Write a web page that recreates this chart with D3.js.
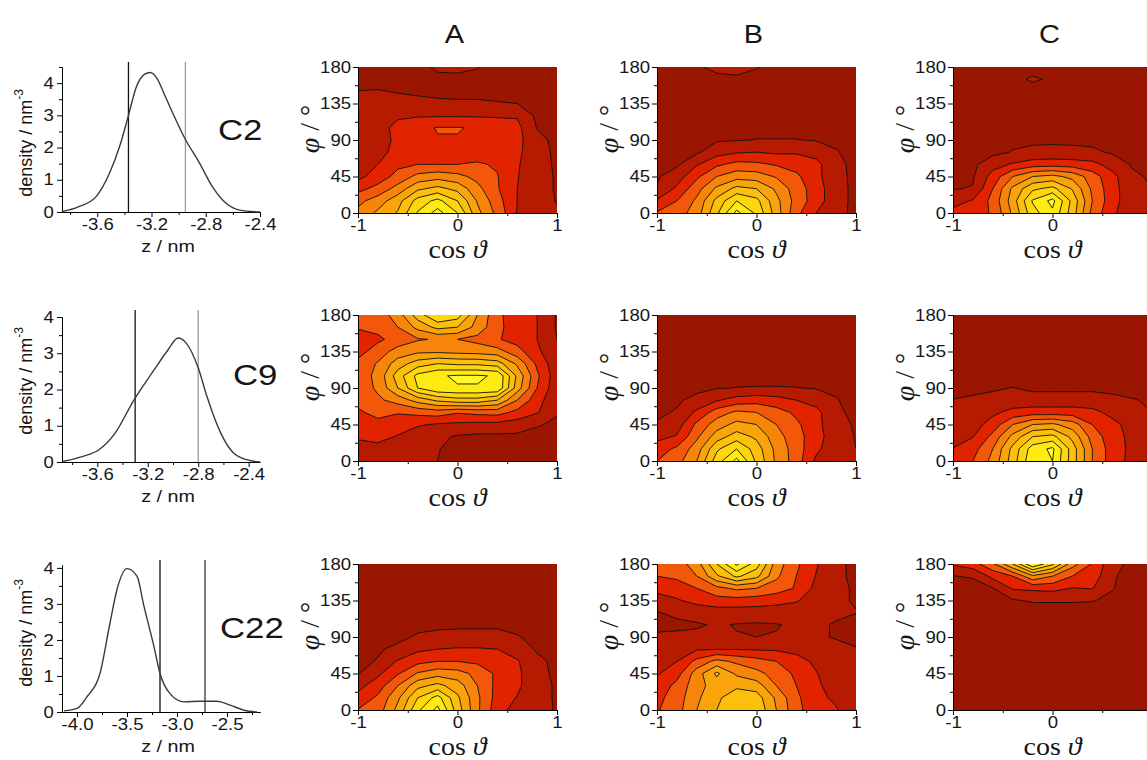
<!DOCTYPE html>
<html>
<head>
<meta charset="utf-8">
<script src="https://cdn.jsdelivr.net/npm/d3@7"></script>
<style>
  body { margin: 0; background: #fff; }
  text { fill: #161616; }
</style>
</head>
<body>
<svg id="fig" width="1147" height="760"></svg>
<script>
// ---------- data ----------
var rowNames = ["C2", "C9", "C22"];
var colNames = ["A", "B", "C"];

// density profiles (z in nm, density in nm^-3)
var zC2  = [-3.86,-3.74,-3.61,-3.51,-3.43,-3.37,-3.31,-3.25,-3.21,-3.16,-3.10,-3.03,-2.95,-2.85,-2.75,-2.65,-2.55,-2.40];
var dC2  = [0.01,0.16,0.47,1.2,2.1,3.0,3.9,4.28,4.33,4.15,3.6,2.95,2.25,1.55,0.78,0.27,0.06,0.0];
var zC9  = [-3.87,-3.72,-3.59,-3.46,-3.31,-3.15,-3.04,-2.96,-2.90,-2.80,-2.73,-2.62,-2.52,-2.39,-2.31];
var dC9  = [0.02,0.15,0.33,0.79,1.71,2.54,3.09,3.42,3.3,2.6,1.8,0.79,0.25,0.04,0.0];
var zC22 = [-4.13,-4.00,-3.90,-3.77,-3.67,-3.60,-3.50,-3.40,-3.33,-3.23,-3.17,-3.07,-2.93,-2.77,-2.60,-2.47,-2.33,-2.20];
var dC22 = [0.03,0.1,0.42,1.07,2.47,3.4,3.98,3.77,2.93,1.81,1.07,0.51,0.28,0.3,0.3,0.19,0.05,0.0];

// vertical marker lines (z, nm) : [black, grey]
var marksC2  = [-3.37, -2.95];
var marksC9  = [-3.30, -2.80];
var marksC22 = [-3.17, -2.72];

var zTicksC2  = [-3.6, -3.2, -2.8, -2.4];
var zMinorC2  = [-3.8, -3.4, -3.0, -2.6];
var zTicksC9  = [-3.6, -3.2, -2.8, -2.4];
var zMinorC9  = [-3.8, -3.4, -3.0, -2.6];
var zTicksC22 = [-4.0, -3.5, -3.0, -2.5];
var zMinorC22 = [-3.75, -3.25, -2.75, -2.25];
var densTicks = [0, 1, 2, 3, 4];
var densMinor = [0.5, 1.5, 2.5, 3.5, 4.5];

// orientation maps: grid nodes
var cosGrid = [-1, -0.8, -0.6, -0.4, -0.2, 0, 0.2, 0.4, 0.6, 0.8, 1];
var phiGrid = [0, 15, 30, 45, 60, 75, 90, 105, 120, 135, 150, 165, 180];
var cosTicks = [-1, 0, 1];
var cosMinor = [-0.5, 0.5];
var phiTicks = [0, 45, 90, 135, 180];
var phiMinor = [22.5, 67.5, 112.5, 157.5];
var levels = [1, 2, 3, 4, 5, 6, 7, 8, 9];
var bandColors = ["#9a1600", "#b61a00", "#e22300", "#f2570a", "#f7850a", "#faa40b", "#fcbf0c", "#fed60d", "#ffea12", "#fffb2a"];

// each grid: rows from phi = 180 (top) down to phi = 0, columns cos = -1 .. 1
var gridC2A = [
  [0.6,0.6,0.6,0.7,1.15,1.2,1.05,0.7,0.6,0.5,0.5],
  [0.7,0.7,0.7,0.7,0.8,0.8,0.75,0.7,0.6,0.5,0.5],
  [1.02,1.05,0.95,0.85,0.8,0.8,0.8,0.75,0.7,0.6,0.5],
  [1.3,1.4,1.3,1.25,1.15,1.1,1.1,1.05,1.0,0.85,0.6],
  [1.3,1.4,1.85,1.9,1.9,1.9,1.9,1.9,1.9,0.8,0.7],
  [1.4,1.6,2.3,2.75,3.05,3.05,2.9,2.5,2.3,0.95,0.7],
  [1.4,1.6,2.2,2.8,2.95,2.95,2.75,2.5,2.3,1.3,0.75],
  [1.4,1.7,2.3,2.5,2.5,2.5,2.6,2.5,2.2,1.4,0.8],
  [1.5,2.0,2.8,3.0,3.0,3.0,3.1,2.9,2.1,1.4,0.85],
  [1.7,2.5,3.3,4.3,4.6,4.3,3.7,3.05,2.05,1.4,0.9],
  [2.7,3.3,4.4,5.8,6.3,5.7,4.3,3.1,2.0,1.4,0.9],
  [3.7,4.5,5.6,7.4,8.3,7.0,4.9,3.4,2.0,1.45,0.95],
  [4.3,5.2,6.1,8.1,9.4,8.0,5.3,3.7,1.95,1.45,1.1]
];
var gridC2B = [
  [0.6,0.7,0.9,1.2,1.3,1.05,0.8,0.6,0.5,0.5,0.5],
  [0.6,0.65,0.7,0.8,0.85,0.75,0.65,0.6,0.5,0.5,0.5],
  [0.6,0.6,0.65,0.7,0.7,0.65,0.6,0.6,0.5,0.5,0.5],
  [0.6,0.6,0.6,0.65,0.65,0.65,0.6,0.6,0.55,0.5,0.5],
  [0.6,0.6,0.6,0.65,0.7,0.7,0.7,0.65,0.6,0.55,0.5],
  [0.6,0.6,0.65,0.7,0.8,0.8,0.8,0.8,0.75,0.65,0.55],
  [0.6,0.65,0.75,0.9,0.95,1.02,1.02,1.02,0.95,0.85,0.6],
  [0.6,0.8,0.85,1.6,1.9,2.0,1.85,1.9,1.6,1.05,0.75],
  [0.75,0.85,1.9,2.8,3.3,3.2,2.9,2.6,2.3,1.2,0.8],
  [0.9,1.5,2.8,4.0,4.6,4.5,3.9,3.2,2.3,1.25,0.8],
  [1.05,2.2,3.6,5.2,6.3,6.0,4.8,3.5,2.5,1.3,0.8],
  [2.1,3.0,4.2,6.3,8.0,7.3,5.3,3.6,2.5,1.3,0.8],
  [3.1,3.5,4.5,6.8,9.3,7.8,5.5,3.3,2.0,1.25,0.8]
];
var gridC2C = [
  [0.7,0.7,0.7,0.7,0.7,0.7,0.7,0.65,0.6,0.6,0.6],
  [0.6,0.6,0.65,0.8,1.1,0.9,0.75,0.65,0.6,0.6,0.6],
  [0.6,0.6,0.65,0.7,0.7,0.7,0.7,0.65,0.6,0.6,0.6],
  [0.6,0.6,0.6,0.6,0.6,0.6,0.6,0.6,0.6,0.6,0.6],
  [0.55,0.55,0.6,0.6,0.6,0.6,0.6,0.6,0.6,0.55,0.55],
  [0.5,0.55,0.6,0.65,0.65,0.65,0.65,0.65,0.6,0.55,0.5],
  [0.5,0.55,0.6,0.8,0.85,0.85,0.85,0.8,0.7,0.6,0.5],
  [0.5,0.6,0.75,1.05,1.2,1.25,1.2,1.15,0.9,0.7,0.6],
  [0.6,0.8,1.6,2.1,2.5,2.6,2.5,2.3,1.6,0.9,0.8],
  [0.85,0.9,2.4,4.0,5.0,5.3,4.7,3.5,2.3,1.2,0.85],
  [0.95,1.05,3.0,5.2,6.8,7.3,5.9,3.8,2.4,1.3,1.0],
  [1.6,2.1,3.3,5.5,8.1,9.3,6.7,4.0,2.4,1.35,1.15],
  [2.3,2.6,3.1,5.2,7.6,8.8,6.5,3.7,2.2,1.3,1.2]
];
var gridC9A = [
  [3.2,3.4,4.5,6.5,8.0,7.5,5.0,3.2,2.5,2.0,0.9],
  [3.1,3.3,4.0,5.3,6.3,6.0,4.6,3.3,2.4,2.0,0.9],
  [2.5,2.8,3.4,3.9,4.1,4.0,3.7,3.1,2.6,2.0,1.0],
  [2.6,3.5,4.4,4.8,4.8,4.7,4.6,4.4,3.4,2.2,1.2],
  [3.3,4.1,5.5,6.5,7.0,6.8,6.8,6.5,4.8,2.8,1.3],
  [3.4,4.3,6.5,8.3,8.9,9.1,9.1,8.9,5.8,3.2,1.4],
  [3.3,4.2,6.0,8.0,8.9,8.95,8.95,8.9,5.5,3.0,1.3],
  [3.2,3.8,4.4,5.4,6.2,6.6,6.6,6.0,4.0,2.4,1.2],
  [2.9,3.2,3.1,3.3,3.5,3.1,3.3,3.4,2.7,2.1,1.05],
  [2.2,2.8,2.3,2.1,1.9,1.8,1.7,1.7,1.5,1.05,0.9],
  [2.1,2.2,1.95,1.5,1.2,0.9,0.8,0.8,0.8,0.8,0.8],
  [1.7,1.8,1.5,1.3,1.05,0.7,0.6,0.6,0.6,0.7,0.7],
  [1.6,1.5,1.3,1.2,1.0,0.6,0.5,0.5,0.5,0.6,0.6]
];
var gridC9B = [
  [0.5,0.5,0.5,0.5,0.5,0.5,0.5,0.5,0.5,0.5,0.5],
  [0.5,0.5,0.5,0.5,0.5,0.5,0.5,0.5,0.5,0.5,0.5],
  [0.5,0.5,0.5,0.5,0.5,0.5,0.5,0.5,0.5,0.5,0.5],
  [0.5,0.5,0.5,0.5,0.5,0.5,0.5,0.5,0.5,0.5,0.5],
  [0.5,0.5,0.5,0.55,0.55,0.55,0.55,0.55,0.5,0.5,0.5],
  [0.5,0.55,0.6,0.65,0.7,0.7,0.7,0.7,0.65,0.6,0.5],
  [0.5,0.6,0.75,0.95,1.02,1.05,1.05,1.02,0.95,0.85,0.6],
  [0.6,0.85,1.3,1.9,2.4,2.6,2.4,2.0,1.6,1.05,0.7],
  [0.8,1.1,2.2,3.5,4.2,4.0,3.4,2.8,2.3,1.15,0.8],
  [1.1,1.5,3.2,4.5,5.3,5.0,4.0,3.2,2.3,1.3,0.9],
  [1.7,2.1,3.8,5.5,6.5,5.8,4.4,3.4,2.4,1.4,0.95],
  [2.5,3.2,4.5,6.8,8.0,6.5,4.7,3.5,2.2,1.4,1.0],
  [3.0,3.6,5.0,7.5,9.3,6.8,4.8,3.5,1.8,1.3,1.15]
];
var gridC9C = [
  [0.5,0.5,0.5,0.5,0.5,0.5,0.5,0.5,0.5,0.5,0.5],
  [0.5,0.5,0.5,0.5,0.5,0.5,0.5,0.5,0.5,0.5,0.5],
  [0.5,0.5,0.5,0.5,0.5,0.5,0.5,0.5,0.5,0.5,0.5],
  [0.5,0.5,0.5,0.5,0.5,0.5,0.5,0.5,0.5,0.5,0.5],
  [0.55,0.55,0.55,0.6,0.6,0.6,0.6,0.6,0.55,0.55,0.5],
  [0.6,0.65,0.7,0.75,0.7,0.7,0.7,0.7,0.65,0.6,0.6],
  [0.8,0.85,0.9,1.02,0.85,0.85,0.85,0.85,0.8,0.75,0.7],
  [1.02,1.1,1.25,1.4,1.35,1.35,1.35,1.35,1.2,1.05,0.9],
  [1.2,1.4,1.8,2.3,2.5,2.5,2.5,2.3,1.7,1.4,1.0],
  [1.3,1.6,2.4,4.0,5.0,5.2,4.5,3.0,2.3,1.6,1.1],
  [1.4,1.95,3.3,5.3,7.0,7.3,5.7,3.6,2.4,1.75,1.2],
  [2.05,2.6,4.0,6.3,8.5,9.2,6.5,4.0,2.5,1.75,1.3],
  [2.2,3.0,4.3,6.5,8.8,9.0,6.5,4.0,2.5,1.7,1.3]
];
var gridC22A = [
  [0.5,0.5,0.5,0.5,0.5,0.5,0.5,0.5,0.5,0.5,0.5],
  [0.5,0.5,0.5,0.5,0.5,0.5,0.5,0.5,0.5,0.5,0.5],
  [0.5,0.5,0.5,0.5,0.5,0.5,0.5,0.5,0.5,0.5,0.5],
  [0.5,0.5,0.5,0.5,0.5,0.5,0.5,0.5,0.5,0.5,0.5],
  [0.5,0.5,0.55,0.6,0.6,0.6,0.6,0.6,0.55,0.5,0.5],
  [0.5,0.6,0.7,0.8,0.85,0.9,0.9,0.9,0.8,0.6,0.5],
  [0.5,0.7,0.8,1.1,1.2,1.2,1.2,1.2,1.05,0.8,0.6],
  [0.6,0.9,1.2,1.8,2.0,2.1,2.1,2.0,1.5,0.9,0.7],
  [0.8,1.05,2.1,2.7,3.0,3.0,2.8,2.5,2.1,1.2,0.8],
  [0.95,1.8,2.9,4.1,4.6,4.4,3.7,2.8,2.2,1.3,0.8],
  [1.7,2.5,4.0,5.7,6.3,5.5,4.0,2.7,2.2,1.3,0.9],
  [2.3,3.2,4.8,7.0,8.4,6.2,4.2,2.6,1.95,1.3,0.9],
  [3.05,3.5,5.3,7.8,9.3,6.5,4.2,2.4,1.6,1.2,0.95]
];
var gridC22B = [
  [3.2,3.5,4.5,7.0,9.2,7.5,4.5,3.2,2.1,1.2,0.8],
  [3.0,3.2,4.0,5.8,7.2,6.3,4.2,3.0,1.95,1.2,0.8],
  [2.2,2.5,3.0,3.7,4.2,4.0,3.5,2.9,1.7,1.2,0.9],
  [1.7,1.9,2.3,2.6,2.6,2.5,2.3,2.1,1.4,1.1,0.95],
  [0.95,1.2,1.4,1.5,1.5,1.5,1.5,1.4,1.3,1.1,1.02],
  [0.7,0.8,0.9,1.1,0.95,0.9,0.95,1.15,1.1,0.95,0.7],
  [1.2,1.2,1.2,1.1,1.05,1.0,1.05,1.1,1.1,0.95,0.8],
  [1.6,1.7,1.9,1.95,1.95,1.9,1.85,1.7,1.45,1.2,1.05],
  [1.8,2.0,3.3,4.3,3.8,3.4,3.0,2.4,1.8,1.3,1.1],
  [1.9,2.6,4.5,6.2,4.8,4.3,3.6,2.8,2.05,1.4,1.1],
  [2.3,3.3,4.6,5.5,5.8,5.5,4.0,3.0,2.2,1.5,1.1],
  [2.7,3.5,4.8,5.8,6.6,6.5,4.8,3.2,2.3,1.8,1.2],
  [2.9,3.6,5.0,6.0,7.0,6.8,5.0,3.3,2.4,2.1,1.2]
];
var gridC22C = [
  [2.1,2.6,3.8,6.0,9.0,7.2,4.4,2.9,1.3,0.8,0.6],
  [0.98,1.05,2.3,3.0,4.8,4.0,3.0,2.6,1.1,0.7,0.6],
  [0.7,0.8,0.95,2.1,2.2,2.3,1.95,2.05,1.05,0.6,0.5],
  [0.5,0.6,0.7,0.9,1.1,1.1,1.1,1.05,0.8,0.5,0.5],
  [0.5,0.5,0.5,0.5,0.5,0.5,0.5,0.5,0.5,0.5,0.5],
  [0.5,0.5,0.5,0.5,0.5,0.5,0.5,0.5,0.5,0.5,0.5],
  [0.5,0.5,0.5,0.5,0.5,0.5,0.5,0.5,0.5,0.5,0.5],
  [0.5,0.5,0.5,0.5,0.5,0.5,0.5,0.5,0.5,0.5,0.5],
  [0.5,0.5,0.5,0.5,0.5,0.5,0.5,0.5,0.5,0.5,0.5],
  [0.5,0.5,0.5,0.5,0.5,0.5,0.5,0.5,0.5,0.5,0.5],
  [0.5,0.5,0.5,0.5,0.5,0.5,0.5,0.5,0.5,0.5,0.5],
  [0.5,0.5,0.5,0.5,0.5,0.5,0.5,0.5,0.5,0.5,0.5],
  [0.5,0.5,0.5,0.5,0.5,0.5,0.5,0.5,0.5,0.5,0.5]
];

// ---------- layout ----------
var SX = 1.16;   // the original figure is stretched horizontally
var SANS = "'Liberation Sans', Arial, sans-serif";
var SERIF = "'Liberation Serif', 'Times New Roman', 'DejaVu Serif', serif";
var svg = d3.select("#fig");

var colX = [358, 657, 953], plotW = 199;
var rowY = [67, 315, 564], plotH = 146;
var cosLabelDy = [45, 45, 45];

var dens = [
  {z: zC2,  d: dC2,  marks: marksC2,  ticks: zTicksC2,  minor: zMinorC2,  xdom: [-3.86, -2.40], top: 67,  bot: 212, ymax: 4.5,  lineTop: 62,  name: [218, 140], ylab: 143},
  {z: zC9,  d: dC9,  marks: marksC9,  ticks: zTicksC9,  minor: zMinorC9,  xdom: [-3.88, -2.31], top: 317, bot: 462, ymax: 4.0,  lineTop: 310, name: [233, 385], ylab: 381},
  {z: zC22, d: dC22, marks: marksC22, ticks: zTicksC22, minor: zMinorC22, xdom: [-4.15, -2.17], top: 565, bot: 712, ymax: 4.08, lineTop: 560, name: [220, 638], ylab: 633}
];
var markColors = [["#111", "#9a9a9a"], ["#111", "#9a9a9a"], ["#111", "#333"]];
var grids = [[gridC2A, gridC2B, gridC2C], [gridC9A, gridC9B, gridC9C], [gridC22A, gridC22B, gridC22C]];

function txt(x, y, o) {
  o = o || {};
  return svg.append("text")
    .attr("transform", "translate(" + x + "," + y + ") scale(" + (o.sx || SX) + ",1)" + (o.rot ? " rotate(-90)" : ""))
    .attr("text-anchor", o.anchor || "middle")
    .attr("font-size", o.size || 16)
    .attr("font-family", o.family || SANS);
}

function styleAxis(g) {
  g.attr("font-family", SANS).attr("font-size", 16);
  g.selectAll("path,line").attr("stroke", "#000").attr("stroke-width", 1);
  g.selectAll("text").attr("transform", "scale(" + SX + ",1)").style("fill", "#161616");
}

// ---------- density panels ----------
dens.forEach(function(p, r) {
  var x = d3.scaleLinear().domain(p.xdom).range([62, 260]);
  var y = d3.scaleLinear().domain([0, p.ymax]).range([p.bot, p.top]);

  svg.append("g").attr("transform", "translate(0," + p.bot + ")")
    .call(d3.axisBottom(x).tickValues(p.minor).tickSize(3).tickSizeOuter(0).tickFormat(""))
    .call(styleAxis);
  svg.append("g").attr("transform", "translate(0," + p.bot + ")")
    .call(d3.axisBottom(x).tickValues(p.ticks).tickSize(5).tickPadding(2).tickSizeOuter(0).tickFormat(function(v) { return v.toFixed(1); }))
    .call(styleAxis);
  svg.append("g").attr("transform", "translate(62,0)")
    .call(d3.axisLeft(y).tickValues(densMinor.filter(function(v) { return v <= p.ymax; })).tickSize(3).tickSizeOuter(0).tickFormat(""))
    .call(styleAxis);
  svg.append("g").attr("transform", "translate(62,0)")
    .call(d3.axisLeft(y).tickValues(densTicks).tickSize(5).tickPadding(2).tickSizeOuter(0).tickFormat(d3.format("d")))
    .call(styleAxis);

  svg.selectAll(null).data(p.marks).enter().append("line")
    .attr("x1", function(v) { return x(v); }).attr("x2", function(v) { return x(v); })
    .attr("y1", p.lineTop).attr("y2", p.bot)
    .attr("stroke", function(v, i) { return markColors[r][i]; })
    .attr("stroke-width", 1.3);

  var pts = p.z.map(function(v, i) { return [v, p.d[i]]; });
  svg.append("path").datum(pts)
    .attr("fill", "none").attr("stroke", "#3a3a3a").attr("stroke-width", 1.4)
    .attr("d", d3.line().curve(d3.curveMonotoneX)
      .x(function(q) { return x(q[0]); }).y(function(q) { return y(q[1]); }));

  var yl = txt(32, p.ylab, {rot: true, size: 18, sx: 1});
  yl.append("tspan").text("density / nm");
  yl.append("tspan").attr("font-size", 12).attr("dy", -9).text("-3");

  txt(168, p.bot + 40, {size: 17}).text("z / nm");
  txt(p.name[0], p.name[1], {size: 30, anchor: "start"}).text(rowNames[r]);
});

// ---------- orientation contour panels ----------
colNames.forEach(function(c, j) {
  txt(colX[j] + plotW / 2 - 3, 43, {size: 25}).text(c);
});

var nx = cosGrid.length, ny = phiGrid.length;
var dCos = cosGrid[1] - cosGrid[0], dPhi = phiGrid[1] - phiGrid[0];

grids.forEach(function(row, r) {
  row.forEach(function(grid, j) {
    var x0 = colX[j], y0 = rowY[r];
    var xs = d3.scaleLinear().domain([-1, 1]).range([x0, x0 + plotW]);
    var ys = d3.scaleLinear().domain([0, 180]).range([y0 + plotH, y0]);
    var values = [].concat.apply([], grid.slice().reverse());
    var contours = d3.contours().size([nx, ny]).thresholds(levels)(values);
    var path = d3.geoPath(d3.geoTransform({
      point: function(px, py) {
        this.stream.point(xs(cosGrid[0] + (px - 0.5) * dCos), ys(phiGrid[0] + (py - 0.5) * dPhi));
      }
    }));
    var id = "clip" + r + j;
    svg.append("clipPath").attr("id", id).append("rect")
      .attr("x", x0).attr("y", y0).attr("width", plotW).attr("height", plotH);
    var g = svg.append("g").attr("clip-path", "url(#" + id + ")");
    g.append("rect").attr("x", x0).attr("y", y0).attr("width", plotW).attr("height", plotH)
      .attr("fill", bandColors[0]);
    g.selectAll("path").data(contours).join("path")
      .attr("d", path)
      .attr("fill", function(d, i) { return bandColors[i + 1]; })
      .attr("stroke", "#111").attr("stroke-width", 0.9).attr("stroke-linejoin", "round");

    // the right-hand column is cut by the page edge, so its "1" is not shown
    var shownCos = cosTicks.filter(function(v) { return xs(v) < 1140; });
    svg.append("g").attr("transform", "translate(0," + (y0 + plotH) + ")")
      .call(d3.axisBottom(xs).tickValues(cosMinor).tickSize(3).tickSizeOuter(0).tickFormat(""))
      .call(styleAxis);
    svg.append("g").attr("transform", "translate(0," + (y0 + plotH) + ")")
      .call(d3.axisBottom(xs).tickValues(shownCos).tickSize(5).tickPadding(2).tickSizeOuter(0).tickFormat(function(v) { return String(v); }))
      .call(styleAxis);
    svg.append("g").attr("transform", "translate(" + x0 + ",0)")
      .call(d3.axisLeft(ys).tickValues(phiMinor).tickSize(3).tickSizeOuter(0).tickFormat(""))
      .call(styleAxis);
    svg.append("g").attr("transform", "translate(" + x0 + ",0)")
      .call(d3.axisLeft(ys).tickValues(phiTicks).tickSize(5).tickPadding(1).tickSizeOuter(0).tickFormat(d3.format("d")))
      .call(styleAxis);

    var pl = txt(x0 - 39, y0 + 62, {rot: true, size: 28, family: SERIF, sx: 1});
    pl.append("tspan").attr("font-style", "italic").text("φ");
    pl.append("tspan").text(" / ");
    pl.append("tspan").text("°");

    var cl = txt(x0 + plotW / 2, y0 + plotH + cosLabelDy[r], {size: 25, family: SERIF, sx: 1.12});
    cl.append("tspan").text("cos ");
    cl.append("tspan").attr("font-style", "italic").text("ϑ");
  });
});
</script>
</body>
</html>
